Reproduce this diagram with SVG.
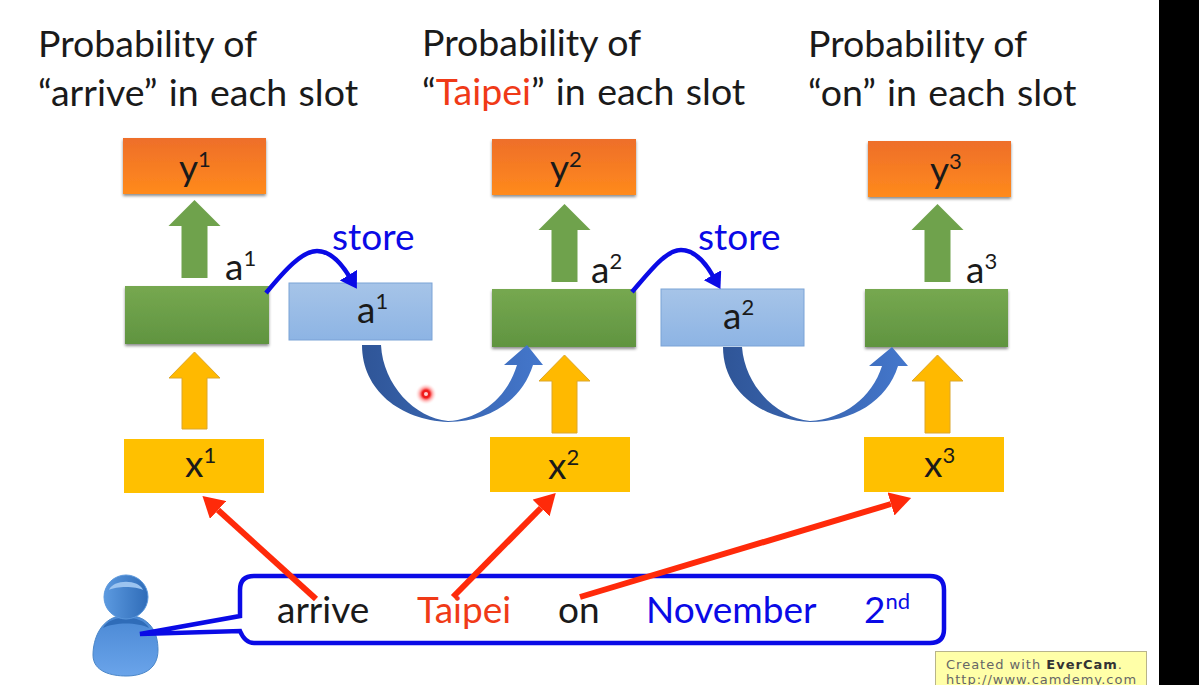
<svg xmlns="http://www.w3.org/2000/svg" width="1199" height="685" viewBox="0 0 1199 685">
<style>
text{font-family:"Lato","Open Sans","Liberation Sans",sans-serif;fill:#1a1a1a}
.t{font-size:37.500px}
.l2{word-spacing:1.800px}
.n{font-size:37px}
.s{font-size:22px}
.w{font-size:37px}
.blue{fill:#0a0ae6}
.red{fill:#f03a17}
.y{fill:url(#gy);filter:url(#sh)}
.g{fill:url(#gg);filter:url(#sh)}
.b{fill:url(#gb);stroke:#7ba3d6;stroke-width:1}
.x{fill:#ffc000}
.ug{fill:#6fa24c}
.uo{fill:#ffb900;stroke:#dca62a;stroke-width:1}
.st{fill:none;stroke:#0a0ae6;stroke-width:4.500}
.rd{fill:none;stroke:#ff2a0a;stroke-width:6}
.wm{font-family:"DejaVu Sans",sans-serif;font-size:13px;fill:#666;letter-spacing:1px}
</style>
<defs>
<linearGradient id="gy" x1="0" y1="0" x2="0" y2="1"><stop offset="0" stop-color="#ee6e2a"/><stop offset="1" stop-color="#ff8a1c"/></linearGradient>
<linearGradient id="gg" x1="0" y1="0" x2="0" y2="1"><stop offset="0" stop-color="#76a850"/><stop offset="1" stop-color="#609440"/></linearGradient>
<linearGradient id="gb" x1="0" y1="0" x2="0" y2="1"><stop offset="0" stop-color="#a6c4e8"/><stop offset="1" stop-color="#8db4e4"/></linearGradient>
<linearGradient id="gc" x1="0" y1="0" x2="1" y2="0"><stop offset="0" stop-color="#2f5597"/><stop offset="1" stop-color="#4477cc"/></linearGradient>
<linearGradient id="gp" x1="0" y1="0" x2="0" y2="1"><stop offset="0" stop-color="#4a88d4"/><stop offset="1" stop-color="#6aa4ea"/></linearGradient>
<linearGradient id="gh" x1="0" y1="0" x2="1" y2="0"><stop offset="0" stop-color="#5c9ae0"/><stop offset="1" stop-color="#2f6cb8"/></linearGradient>
<radialGradient id="gd"><stop offset="0" stop-color="#f01c1c"/><stop offset="0.35" stop-color="#f01c1c"/><stop offset="0.55" stop-color="#ff9a9a"/><stop offset="1" stop-color="#ffffff" stop-opacity="0"/></radialGradient>
<filter id="sh" x="-5%" y="-10%" width="110%" height="125%"><feDropShadow dx="0" dy="2" stdDeviation="1.500" flood-color="#000" flood-opacity="0.45"/></filter>
<marker id="mr" markerUnits="userSpaceOnUse" markerWidth="22" markerHeight="24" refX="0" refY="12" orient="auto"><path d="M0,0L21,12L0,24Z" fill="#ff2a0a"/></marker>
<marker id="mb" markerUnits="userSpaceOnUse" markerWidth="18" markerHeight="20" refX="1" refY="10" orient="auto"><path d="M0,0L16,10L0,20Z" fill="#0a0ae6"/></marker>
</defs>
<rect width="1199" height="685" fill="#fff"/>
<rect x="1159" y="0" width="40" height="685" fill="#000"/>

<g id="title1"><text class="t" x="38" y="57">Probability of</text><text class="t l2" x="38" y="106">“arrive” in each slot</text></g>
<g id="title2"><text class="t" x="422" y="56">Probability of</text><text class="t l2" x="422" y="105">“<tspan class="red">Taipei</tspan>” in each slot</text></g>
<g id="title3"><text class="t" x="808" y="57">Probability of</text><text class="t l2" x="808" y="106">“on” in each slot</text></g>

<g id="node-y1"><rect class="y" x="123" y="138" width="143" height="56"/><text class="n" x="179" y="181">y<tspan class="s" dy="-14">1</tspan></text></g>
<g id="node-y2"><rect class="y" x="492" y="139" width="144" height="56"/><text class="n" x="550" y="181">y<tspan class="s" dy="-14">2</tspan></text></g>
<g id="node-y3"><rect class="y" x="868" y="141" width="143" height="56"/><text class="n" x="930" y="183">y<tspan class="s" dy="-14">3</tspan></text></g>
<g id="node-a1"><rect class="g" x="125" y="286" width="144" height="58"/><text class="n" x="225" y="280">a<tspan class="s" dy="-14">1</tspan></text></g>
<g id="node-a2"><rect class="g" x="492" y="289" width="144" height="58"/><text class="n" x="591" y="283">a<tspan class="s" dy="-14">2</tspan></text></g>
<g id="node-a3"><rect class="g" x="865" y="289" width="143" height="58"/><text class="n" x="966" y="283">a<tspan class="s" dy="-14">3</tspan></text></g>
<g id="node-m1"><rect class="b" x="289" y="283" width="143" height="57"/><text class="n" x="357" y="323">a<tspan class="s" dy="-14">1</tspan></text></g>
<g id="node-m2"><rect class="b" x="661" y="289" width="143" height="57"/><text class="n" x="723" y="329">a<tspan class="s" dy="-14">2</tspan></text></g>
<g id="label-store"><text class="n blue" x="332" y="250">store</text><text class="n blue" x="698" y="250">store</text></g>
<g id="node-x1"><rect class="x" x="124" y="439" width="140" height="54"/><text class="n" x="185" y="477">x<tspan class="s" dy="-14">1</tspan></text></g>
<g id="node-x2"><rect class="x" x="490" y="437" width="140" height="55"/><text class="n" x="548" y="479">x<tspan class="s" dy="-14">2</tspan></text></g>
<g id="node-x3"><rect class="x" x="864" y="437" width="140" height="55"/><text class="n" x="924" y="477">x<tspan class="s" dy="-14">3</tspan></text></g>

<g id="connectors">
<path id="up-a1" class="ug" d="M194.500,200L220.500,226H207.500V278H181.500V226H168.500Z"/>
<path id="up-a2" class="ug" d="M564.500,204L590.500,230H577.500V282H551.500V230H538.500Z"/>
<path id="up-a3" class="ug" d="M937.500,204L963.500,230H950.500V282H924.500V230H911.500Z"/>
<path id="up-x1" class="uo" d="M194.500,352L220,378H207V429H182V378H169Z"/>
<path id="up-x2" class="uo" d="M564.500,355L590,381H577V433H552V381H539Z"/>
<path id="up-x3" class="uo" d="M937.500,355L963,381H950V433H925V381H912Z"/>
<path id="store1" class="st" marker-end="url(#mb)" d="M266,293C285,270 302,251 317,251C331,251 341,263 349,276"/>
<path id="store2" class="st" marker-end="url(#mb)" d="M632,292C651,270 666,250 681,250C695,250 705,262 713,276"/>
<path id="curve1" fill="url(#gc)" d="M362,345H381C383,385 415,418 448,421C480,419 507,398 517,365H504L527,345L543,365H533C522,400 490,422 448,422C400,420 362,390 362,345Z"/>
<path id="curve2" fill="url(#gc)" d="M723,347H742C745,387 778,418 810,421C843,419 872,398 882,366H869L892,347L908,366H898C887,401 853,422 810,422C763,420 723,392 723,347Z"/>
</g>

<g id="node-user">
<path d="M126,615C100,616 93,640 93,655C93,672 112,676 126,676C142,676 158,670 158,650C158,632 150,616 126,615Z" fill="url(#gp)" stroke="#4a86c8"/>
<path d="M103,628C110,614 142,614 149,628C138,622 114,622 103,628Z" fill="#2f6cb8"/>
<circle cx="126" cy="597" r="22" fill="url(#gh)" stroke="#5a97dc"/>
<path d="M109,590C113,579 139,579 143,590C136,586 116,586 109,590Z" fill="#9cc4f0"/>
</g>
<g id="node-speech">
<path d="M254,576H930Q944,576 944,590V629Q944,643 930,643H254Q245,643 240,631L140,634L240,616V590Q240,576 254,576Z" fill="#fff" stroke="#0a0ae6" stroke-width="4.500" stroke-linejoin="miter"/>
<text class="w" x="277" y="623">arrive</text>
<text class="w red" x="417" y="623">Taipei</text>
<text class="w" x="558" y="623">on</text>
<text class="w blue" x="646" y="623">November</text>
<text class="w blue" x="864" y="623">2<tspan class="s" dy="-14">nd</tspan></text>
</g>
<g id="red-arrows">
<path class="rd" marker-end="url(#mr)" d="M316,599L218,510"/>
<path class="rd" marker-end="url(#mr)" d="M453,597L541,508"/>
<path class="rd" marker-end="url(#mr)" d="M580,597L891,504"/>
</g>
<circle id="pointer" cx="426" cy="394" r="11" fill="url(#gd)"/>
<circle cx="426" cy="394" r="2" fill="#ffd0d0"/>
<g id="watermark">
<rect x="935.500" y="651.500" width="211" height="40" fill="#ffffa8" stroke="#b8b48a"/>
<text class="wm" x="946" y="669">Created with <tspan style="font-weight:bold;fill:#333">EverCam</tspan>.</text>
<text class="wm" x="946" y="684">http://www.camdemy.com</text>
</g>
</svg>
